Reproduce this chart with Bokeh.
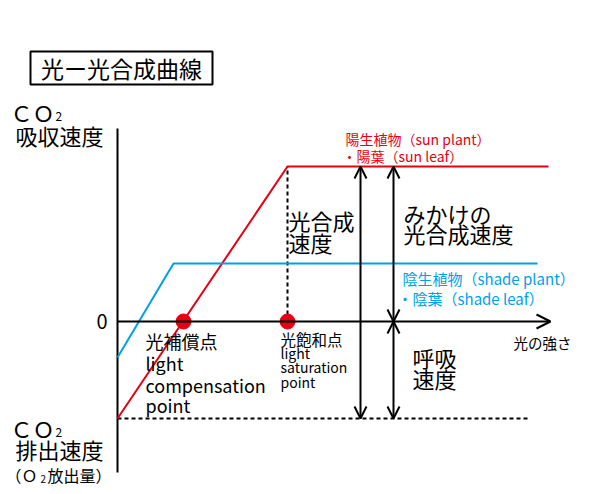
from bokeh.plotting import figure
from bokeh.models import Range1d, Arrow, OpenHead, ColumnDataSource
from bokeh.core.properties import value
from bokeh.embed import file_html
from bokeh.resources import INLINE

# ---- data (arbitrary units: light intensity, CO2 rate) ----
sun_light = [0.0, 17.0, 43.1]
sun_rate = [-9.7, 15.5, 15.5]
shade_light = [0.0, 5.6, 42.0]
shade_rate = [-3.6, 5.8, 5.8]
point_light = [6.6, 17.0]          # compensation point, saturation point
point_rate = [0.0, 0.0]
axis_light_max = 43.3
axis_rate_min = -15.1
axis_rate_max = 19.3
dash_light_max = 41.3

RED = "#e60012"
BLUE = "#00a0e9"
FONT = "Noto Sans CJK JP"

p = figure(width=600, height=494, output_backend="svg", toolbar_location=None,
           x_range=Range1d(-11.7, 48.3), y_range=Range1d(-17.3, 32.1),
           min_border=0, outline_line_color=None)
p.axis.visible = False
p.grid.visible = False
p.background_fill_color = "white"

# axes
p.line([0, 0], [axis_rate_min, axis_rate_max], line_color="black", line_width=2)
p.add_layout(Arrow(end=OpenHead(size=14, line_width=2, line_color="black"),
                   x_start=0, y_start=0, x_end=axis_light_max, y_end=0,
                   line_width=2, line_color="black"))

# dashed guides
p.line([sun_light[1], sun_light[1]], [0, sun_rate[1]], line_color="black",
       line_width=2, line_dash="4 3")
p.line([0, dash_light_max], [sun_rate[0], sun_rate[0]], line_color="black",
       line_width=2, line_dash="4 3")

# curves
p.line(sun_light, sun_rate, line_color=RED, line_width=2)
p.line(shade_light, shade_rate, line_color=BLUE, line_width=2)
p.scatter(point_light, point_rate, size=15, color=RED)

# arrows
def dbl_arrow(x, y0, y1):
    p.add_layout(Arrow(start=OpenHead(size=12, line_width=2),
                       end=OpenHead(size=12, line_width=2),
                       x_start=x, y_start=y0, x_end=x, y_end=y1,
                       line_width=2, line_color="black"))

dbl_arrow(24.3, sun_rate[0], sun_rate[1])
dbl_arrow(27.6, 0, sun_rate[1])
dbl_arrow(27.6, sun_rate[0], 0)

# title box
p.quad(left=[-8.7], right=[9.5], bottom=[23.7], top=[27.0],
       fill_color=None, line_color="black", line_width=2)


def txt(x, y, s, size, color="black", align="left", baseline="middle"):
    src = ColumnDataSource(dict(x=[x], y=[y], t=[s]))
    p.text(x="x", y="y", text="t", source=src, text_font=value(FONT),
           text_font_size=f"{size}px", text_color=color,
           text_align=align, text_baseline=baseline)


txt(0.4, 25.4, "光ー光合成曲線", 23, align="center")

# y-axis labels
txt(-10.7, 21.0, "ＣＯ", 22)
txt(-6.2, 20.5, "2", 12)
txt(-10.2, 18.7, "吸収速度", 22)
txt(-10.7, -10.6, "ＣＯ", 22)
txt(-6.2, -11.1, "2", 12)
txt(-10.2, -12.7, "排出速度", 22)
txt(-11.2, -15.3, "（Ｏ", 16)
txt(-7.7, -15.7, "2", 10)
txt(-7.0, -15.3, "放出量）", 16)
txt(-1.0, 0.0, "0", 20, align="right")

# series labels
txt(22.8, 18.3, "陽生植物（sun plant）", 14, RED)
txt(22.5, 16.6, "・陽葉（sun leaf）", 14, RED)
txt(28.5, 4.3, "陰生植物（shade plant）", 15, BLUE)
txt(28.0, 2.3, "・陰葉（shade leaf）", 15, BLUE)

# annotations
txt(17.1, 10.2, "光合成", 22)
txt(17.1, 8.0, "速度", 22)
txt(28.6, 10.9, "みかけの", 22)
txt(28.6, 8.9, "光合成速度", 22)
txt(29.5, -3.5, "呼吸", 22)
txt(29.5, -5.6, "速度", 22)
txt(39.6, -2.1, "光の強さ", 14.5)

txt(2.8, -1.9, "光補償点", 18)
txt(2.8, -4.1, "light", 18)
txt(2.8, -6.3, "compensation", 18)
txt(2.8, -8.3, " point", 18)

txt(16.3, -1.7, "光飽和点", 15.5)
txt(16.3, -3.1, "light", 14)
txt(16.3, -4.5, "saturation", 14)
txt(16.3, -6.0, "point", 14)

open("out.html", "w").write(file_html(p, INLINE))
